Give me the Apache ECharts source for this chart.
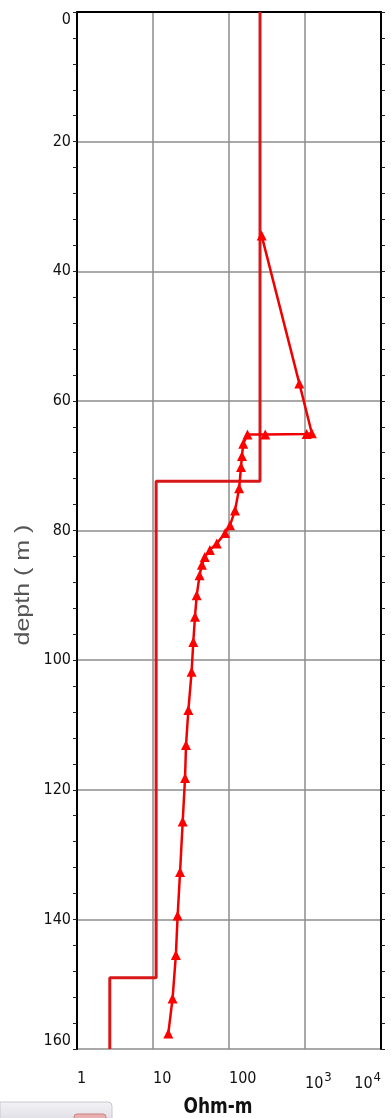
<!DOCTYPE html>
<html>
<head>
<meta charset="utf-8">
<script src="https://cdn.jsdelivr.net/npm/echarts@6/dist/echarts.min.js"></script>
<style>
  html, body { margin: 0; padding: 0; background: #fff; }
  #chart { width: 391px; height: 1118px; }
</style>
</head>
<body>
<div id="chart"></div>
<script>
// measured curve: resistivity (Ohm-m) vs depth (m)
const measRho = [269, 842, 1230, 1050, 300, 175, 154, 148, 144, 136, 120, 103, 89, 69, 56, 48, 44, 41, 37.6, 35.7, 33.9, 32.2, 29.2, 27.2, 26.4, 24.6, 22.7, 21.1, 20, 18.1, 15.9];
const measDepth = [34.5, 57.3, 65.0, 65.1, 65.2, 65.2, 66.6, 68.5, 70.2, 73.5, 76.9, 79.2, 80.4, 82.0, 83.0, 84.1, 85.3, 86.9, 90.0, 93.3, 97.2, 101.8, 107.7, 113.1, 118.2, 124.9, 132.7, 139.4, 145.5, 152.2, 157.6];
// layered model
const layerRho = [256, 11, 2.7];
const layerTop = [0, 72.4, 149];
const depthMax = 160;
// axis ticks
const depthTicks = [0, 20, 40, 60, 80, 100, 120, 140, 160];
const rhoTicks = [1, 10, 100, 1000, 10000];
const rhoLabels = ['{n|1}', '{n|10}', '{n|100}', '{n|10}{s|3}', '{n|10}{s|4}'];

const chart = echarts.init(document.getElementById('chart'));

// build step path of model
let modelData = [];
for (let i = 0; i < layerRho.length; i++) {
    let bottom = i + 1 < layerTop.length ? layerTop[i + 1] : depthMax;
    modelData.push([layerRho[i], layerTop[i]]);
    modelData.push([layerRho[i], bottom]);
}
let measData = measRho.map((r, i) => [r, measDepth[i]]);

const labelFont = "'Liberation Sans Narrow', 'DejaVu Sans Condensed', sans-serif";
const yAxisBase = {
    type: 'value',
    inverse: true,
    min: depthTicks[0],
    max: depthTicks[depthTicks.length - 1],
    interval: 20,
    axisLine: { show: true, lineStyle: { color: '#000', width: 2 } },
    axisTick: { show: true, inside: false, length: 4, lineStyle: { color: '#222' } },
    minorTick: { show: true, splitNumber: 5, length: 4, lineStyle: { color: '#222' } }
};

const option = {
    animation: false,
    grid: { left: 77, right: 10, top: 12, bottom: 69 },
    xAxis: {
        type: 'log',
        logBase: 10,
        min: rhoTicks[0],
        max: rhoTicks[rhoTicks.length - 1],
        axisLine: { show: true, lineStyle: { color: '#000', width: 2 } },
        axisTick: { show: false },
        splitLine: { show: true, lineStyle: { color: '#8c8c8c', width: 1.5 } },
        axisLabel: {
            margin: 22,
            align: 'left',
            alignMaxLabel: 'right',
            formatter: function (v) {
                let i = rhoTicks.indexOf(Math.round(v));
                return i >= 0 ? rhoLabels[i] : '';
            },
            rich: {
                n: { fontFamily: labelFont, fontSize: 16, color: '#111' },
                s: { fontFamily: labelFont, fontSize: 13, color: '#111', verticalAlign: 'top', padding: [0, 0, 12, 1] }
            }
        }
    },
    yAxis: [
        Object.assign({}, yAxisBase, {
            position: 'left',
            splitLine: { show: true, lineStyle: { color: '#8c8c8c', width: 1.5 } },
            axisLabel: {
                margin: 6,
                fontFamily: labelFont,
                fontSize: 16,
                color: '#111',
                verticalAlignMinLabel: 'top',
                verticalAlignMaxLabel: 'bottom'
            }
        }),
        Object.assign({}, yAxisBase, {
            position: 'right',
            splitLine: { show: false },
            axisLabel: { show: false }
        })
    ],
    graphic: [
        {
            type: 'text',
            x: 23, y: 585,
            rotation: Math.PI / 2,
            scaleX: 1.25,
            style: {
                text: 'depth ( m )',
                fill: '#555',
                font: "20px 'Liberation Sans', Arial, sans-serif",
                align: 'center',
                verticalAlign: 'middle'
            }
        },
        {
            type: 'text',
            x: 218, y: 1108,
            scaleX: 0.9,
            style: {
                text: 'Ohm-m',
                fill: '#111',
                font: "bold 21px 'Liberation Sans Narrow', 'DejaVu Sans Condensed', sans-serif",
                align: 'center',
                verticalAlign: 'middle'
            }
        },
        {
            type: 'rect',
            shape: { x: 0, y: 1102, width: 112, height: 20, r: [0, 4, 0, 0] },
            style: {
                fill: new echarts.graphic.LinearGradient(0, 0, 0, 1, [
                    { offset: 0, color: '#f4f4f6' },
                    { offset: 1, color: '#dcdce4' }
                ]),
                stroke: '#c8c8cc'
            }
        },
        {
            type: 'rect',
            shape: { x: 74, y: 1114, width: 32, height: 8, r: 3 },
            style: { fill: '#e8b0b0', stroke: '#d08080' }
        }
    ],
    series: [
        {
            name: 'model',
            type: 'line',
            yAxisIndex: 0,
            data: modelData,
            showSymbol: false,
            symbol: 'none',
            lineStyle: { color: '#d81818', width: 3 },
            z: 2
        },
        {
            name: 'measured',
            type: 'line',
            yAxisIndex: 0,
            data: measData,
            symbol: 'triangle',
            symbolSize: 10,
            itemStyle: { color: '#ff0000' },
            lineStyle: { color: '#f00000', width: 2.5 },
            z: 3
        }
    ]
};

chart.setOption(option);
</script>
</body>
</html>
